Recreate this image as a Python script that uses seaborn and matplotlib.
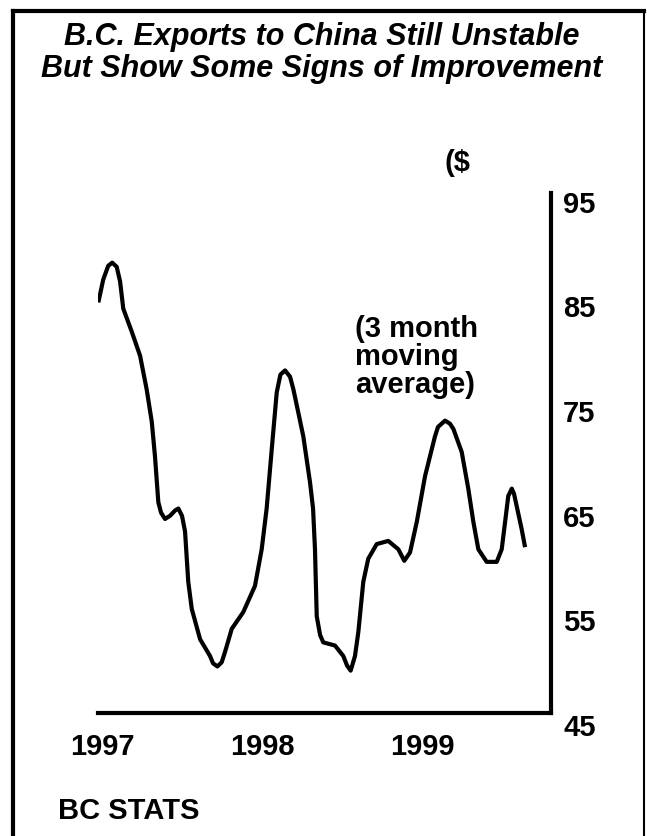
import pandas as pd
import matplotlib.pyplot as plt
import matplotlib.transforms as mtransforms
from matplotlib.lines import Line2D
import seaborn as sns

# data (decimal years, $ millions, 3 month moving average)
title_lines = ["B.C. Exports to China Still Unstable",
               "But Show Some Signs of Improvement"]
year_ticks = [1997, 1998, 1999]
value_ticks = [45, 55, 65, 75, 85, 95]
months = [1996.977, 1997.008, 1997.039, 1997.064, 1997.092, 1997.113, 1997.133,
          1997.186, 1997.238, 1997.279, 1997.311, 1997.331, 1997.352, 1997.369,
          1997.394, 1997.425, 1997.456, 1997.477, 1997.500, 1997.519, 1997.539,
          1997.561, 1997.613, 1997.675, 1997.694, 1997.721, 1997.748, 1997.769,
          1997.811, 1997.883, 1997.956, 1997.998, 1998.029, 1998.061, 1998.092,
          1998.115, 1998.144, 1998.175, 1998.196, 1998.258, 1998.300, 1998.319,
          1998.331, 1998.342, 1998.363, 1998.383, 1998.456, 1998.508, 1998.531,
          1998.554, 1998.581, 1998.602, 1998.633, 1998.664, 1998.717, 1998.789,
          1998.852, 1998.889, 1998.925, 1998.967, 1999.019, 1999.081, 1999.100,
          1999.144, 1999.175, 1999.196, 1999.248, 1999.289, 1999.321, 1999.352,
          1999.404, 1999.467, 1999.498, 1999.519, 1999.539, 1999.561, 1999.575,
          1999.592, 1999.623, 1999.644]
exports = [85.3, 87.5, 88.8, 89.1, 88.7, 87.3, 84.7,
           82.5, 80.2, 77.0, 73.9, 70.6, 66.2, 65.2,
           64.6, 64.9, 65.4, 65.6, 64.9, 63.4, 58.6,
           56.0, 53.1, 51.5, 50.8, 50.5, 50.9, 51.9,
           54.1, 55.7, 58.2, 61.7, 65.6, 71.3, 76.7,
           78.4, 78.8, 78.2, 77.0, 72.5, 68.1, 65.6,
           61.7, 55.3, 53.5, 52.8, 52.5, 51.5, 50.6,
           50.1, 51.5, 53.8, 58.6, 60.8, 62.2, 62.5,
           61.7, 60.6, 61.4, 64.3, 68.7, 72.5, 73.4,
           74.0, 73.7, 73.2, 71.0, 67.5, 64.3, 61.7,
           60.5, 60.5, 61.7, 64.3, 66.8, 67.5, 67.0,
           65.8, 63.6, 61.9]

sns.set_style("white")
plt.rcParams['font.family'] = ['Liberation Sans', 'DejaVu Sans']
plt.rcParams['text.color'] = 'black'

W, H = 647, 837
fig = plt.figure(figsize=(W / 100, H / 100), dpi=100)
ax = fig.add_axes([98 / W, 1 - 714 / H, 453 / W, 520 / H])
ax.patch.set_alpha(0)

df = pd.DataFrame({"year": months, "value": exports})
sns.lineplot(data=df, x="year", y="value", ax=ax, color="black", linewidth=3,
             sort=False, estimator=None)
ax.lines[0].set_solid_joinstyle("round")
ax.lines[0].set_solid_capstyle("butt")

ax.set_xlim(1996.975, 1999.806)
ax.set_ylim(46.05, 95.76)
ax.set_xticks([])
ax.set_yticks([])
ax.set_xlabel("")
ax.set_ylabel("")
sns.despine(ax=ax, left=True, top=True, right=False, bottom=False)
for s in ["right", "bottom"]:
    ax.spines[s].set_linewidth(3)
    ax.spines[s].set_color("black")

# value labels to the right of the axis line
ytr = mtransforms.offset_copy(ax.get_yaxis_transform(), fig=fig, x=12, y=-10.8, units="dots")
for v in value_ticks:
    ax.text(1.0, v, str(v), transform=ytr, ha="left", va="baseline",
            fontsize=21, fontweight="bold", clip_on=False)

# year labels under the axis
xtr = mtransforms.offset_copy(ax.get_xaxis_transform(), fig=fig, y=-41, units="dots")
for yr in year_ticks:
    ax.text(yr, 0, str(yr), transform=xtr, ha="center", va="baseline",
            fontsize=21, fontweight="bold", clip_on=False)

# title
fig.text(322 / W, 1 - 45 / H, title_lines[0], ha="center", va="baseline",
         fontsize=22, fontweight="bold", style="italic")
fig.text(322 / W, 1 - 77 / H, title_lines[1], ha="center", va="baseline",
         fontsize=22, fontweight="bold", style="italic")

# other texts
fig.text(445 / W, 1 - 171 / H, "($", ha="left", va="baseline", fontsize=21, fontweight="bold")
for txt, base in zip(["(3 month", "moving", "average)"], [337, 365, 393]):
    fig.text(355 / W, 1 - base / H, txt, ha="left", va="baseline",
             fontsize=21, fontweight="bold")
fig.text(58 / W, 1 - 819 / H, "BC STATS", ha="left", va="baseline",
         fontsize=21, fontweight="bold")

# frame around the chart (open at the bottom)
fig.add_artist(Line2D([13 / W, 13 / W], [0, 1 - 12 / H], transform=fig.transFigure,
                      color="black", lw=3, solid_capstyle="projecting"))
fig.add_artist(Line2D([13 / W, 644 / W], [1 - 12 / H, 1 - 12 / H], transform=fig.transFigure,
                      color="black", lw=3, solid_capstyle="projecting"))
fig.add_artist(Line2D([644 / W, 644 / W], [0, 1 - 12 / H], transform=fig.transFigure,
                      color="black", lw=1.5))

fig.savefig("out.png", dpi=100)
